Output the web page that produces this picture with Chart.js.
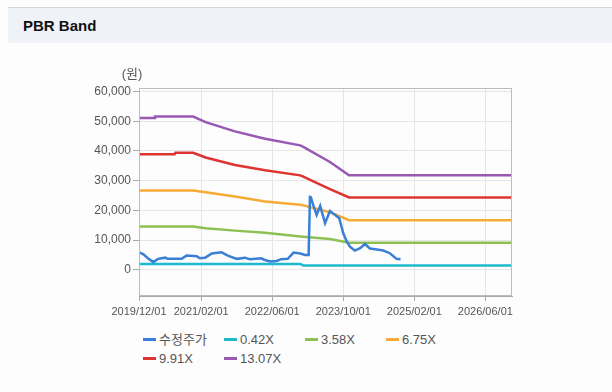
<!DOCTYPE html>
<html>
<head>
<meta charset="utf-8">
<title>PBR Band</title>
<script src="https://cdn.jsdelivr.net/npm/chart.js@4.4.1/dist/chart.umd.min.js"></script>
<style>
    html, body { margin: 0; padding: 0; background: #fdfdfd; }
    body { width: 612px; height: 392px; position: relative; overflow: hidden; font-family: "Liberation Sans", Arial, "Noto Sans CJK KR", sans-serif; }
    #header { position: absolute; left: 8px; right: 0; top: 7px; height: 35px; background: #eff2f7; border-top: 1px solid #d6d6d6; }
    #header span { position: absolute; left: 15px; top: 9px; font-size: 15px; font-weight: bold; color: #111; }
    #pbrChart { position: absolute; left: 0; top: 0; }
    #legend { position: absolute; left: 143px; top: 330px; width: 330px; }
    .item { display: inline-block; width: 81px; height: 18px; line-height: 18px; font-size: 13px; color: #555; white-space: nowrap; }
    .item i { display: inline-block; width: 13px; height: 3px; vertical-align: middle; margin-right: 3px; margin-top: -2px; }
</style>
</head>
<body>
<div id="header"><span>PBR Band</span></div>
<canvas id="pbrChart" width="612" height="330"></canvas>
<div id="legend"></div>

<script>
    // x 값은 2019/12/01 기준 개월 수
    var tickMonths = [0, 14, 30, 46, 62, 78];
    var tickLabels = ["2019/12/01", "2021/02/01", "2022/06/01", "2023/10/01", "2025/02/01", "2026/06/01"];
    var yTicks = [0, 10000, 20000, 30000, 40000, 50000, 60000];

    // 수정주가
    var priceMonths = [0.2, 1, 2, 3.2, 4.3, 5.9, 6.5, 9.6, 10.7, 13, 13.7, 14.9, 16.4, 18.6, 20, 22, 23.9, 24.6,
        25, 27.5, 28.2, 29.5, 31, 32, 33.5, 34.8, 36.3, 37.4, 38.2, 38.5, 38.7, 39.3, 40, 40.8, 41.9, 43, 44.1, 45.1,
        46, 46.8, 47.5, 48.6, 49.8, 50.9, 52, 53.2, 55, 56.5, 58, 58.9];
    var priceValues = [5800, 5200, 3900, 2600, 3700, 4100, 3700, 3700, 4800, 4600, 3900, 4100, 5500, 5900, 4800, 3700, 4100, 3700,
        3600, 3900, 3400, 2800, 3000, 3600, 3700, 5800, 5500, 5000, 5000, 24500, 24400, 21500, 18500, 21500, 15700, 19800, 18500, 17400,
        12300, 9500, 7800, 6500, 7300, 8700, 7200, 6900, 6500, 5600, 3700, 3600];

    // 밴드 (0.42X ~ 13.07X)
    var bandMonths = [0, 3.4, 3.6, 8, 8.2, 12.2, 15, 21.6, 28.4, 36.3, 37, 43, 47.3, 84];
    var band042 = [2000, 2000, 2000, 2000, 2000, 2000, 2000, 2000, 2000, 2000, 1500, 1500, 1500, 1500];
    var band358 = [14600, 14600, 14600, 14600, 14600, 14600, 14000, 13200, 12500, 11200, 11100, 10400, 9150, 9150];
    var band675 = [26700, 26700, 26700, 26700, 26700, 26700, 26100, 24700, 23000, 21900, 21700, 19400, 16700, 16700];
    var band991 = [38900, 38900, 38900, 38900, 39400, 39400, 37800, 35300, 33500, 31800, 31400, 27200, 24350, 24350];
    var band1307 = [51100, 51100, 51600, 51600, 51600, 51600, 49700, 46600, 44100, 41900, 41400, 36300, 31800, 31800];

    var seriesNames = ["수정주가", "0.42X", "3.58X", "6.75X", "9.91X", "13.07X"];
    var seriesColors = ["#3a7fd6", "#1fb9cf", "#8cc152", "#f7ab36", "#dd3431", "#9a58b5"];

    function toPoints(months, values) {
        return months.map(function (m, i) { return { x: m, y: values[i] }; });
    }

    var seriesData = [
        toPoints(priceMonths, priceValues),
        toPoints(bandMonths, band042),
        toPoints(bandMonths, band358),
        toPoints(bandMonths, band675),
        toPoints(bandMonths, band991),
        toPoints(bandMonths, band1307)
    ];

    var datasets = seriesNames.map(function (name, i) {
        return {
            label: name,
            data: seriesData[i],
            borderColor: seriesColors[i],
            backgroundColor: seriesColors[i],
            borderWidth: 2.5,
            pointRadius: 0,
            tension: 0,
            order: i === 0 ? 0 : 1
        };
    });

    // 플롯 테두리 + (원) 라벨
    var frameAndUnit = {
        id: 'frameAndUnit',
        afterDraw: function (chart) {
            var ctx = chart.ctx;
            var a = chart.chartArea;
            ctx.save();
            ctx.strokeStyle = '#bcbcbc';
            ctx.lineWidth = 1;
            ctx.strokeRect(a.left + 0.5, a.top + 0.5, a.right - a.left - 1, a.bottom - a.top - 1);
            ctx.fillStyle = '#555';
            ctx.font = '13px "Liberation Sans", "Noto Sans CJK KR", sans-serif';
            ctx.textAlign = 'center';
            ctx.textBaseline = 'middle';
            ctx.fillText('(원)', a.left - 7, 74);
            ctx.restore();
        }
    };

    var ctx = document.getElementById('pbrChart').getContext('2d');
    new Chart(ctx, {
        type: 'line',
        data: { datasets: datasets },
        plugins: [frameAndUnit],
        options: {
            responsive: false,
            animation: false,
            devicePixelRatio: 1,
            layout: { padding: { left: 69, right: 100, top: 88, bottom: 4 } },
            plugins: {
                legend: { display: false },
                tooltip: { enabled: false }
            },
            scales: {
                x: {
                    type: 'linear',
                    min: 0,
                    max: 84,
                    afterBuildTicks: function (scale) {
                        scale.ticks = tickMonths.map(function (v) { return { value: v }; });
                    },
                    afterFit: function (scale) { scale.height = 30; },
                    ticks: {
                        autoSkip: false,
                        maxRotation: 0,
                        padding: 4,
                        color: '#555',
                        font: { family: '"Liberation Sans", Arial, sans-serif', size: 11 },
                        callback: function (value) {
                            var idx = tickMonths.indexOf(value);
                            return idx >= 0 ? tickLabels[idx] : '';
                        }
                    },
                    grid: { color: '#e6e6e6', tickColor: '#aaa', tickLength: 5 },
                    border: { color: '#aaa' }
                },
                y: {
                    min: -8800,
                    max: 61200,
                    afterBuildTicks: function (scale) {
                        scale.ticks = yTicks.map(function (v) { return { value: v }; });
                    },
                    afterFit: function (scale) { scale.width = 70; },
                    ticks: {
                        padding: 2,
                        color: '#555',
                        font: { family: '"Liberation Sans", Arial, sans-serif', size: 12 },
                        callback: function (value) { return value.toLocaleString('en-US'); }
                    },
                    grid: { color: '#e6e6e6', tickColor: '#aaa', tickLength: 6 },
                    border: { color: '#aaa' }
                }
            }
        }
    });

    // 범례
    var legend = document.getElementById('legend');
    seriesNames.forEach(function (name, i) {
        var item = document.createElement('span');
        item.className = 'item';
        item.innerHTML = '<i style="background:' + seriesColors[i] + '"></i>' + name;
        legend.appendChild(item);
    });
</script>
</body>
</html>
